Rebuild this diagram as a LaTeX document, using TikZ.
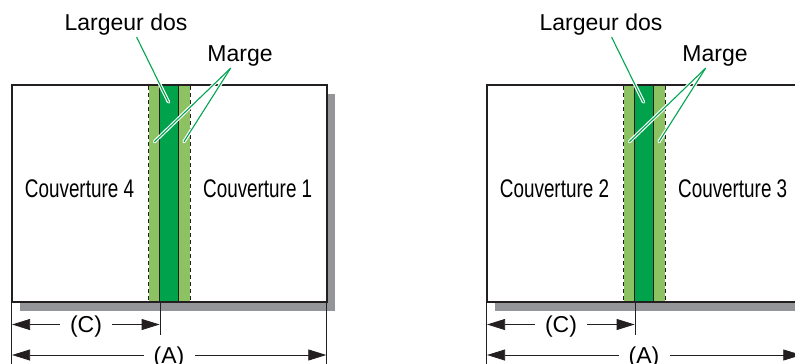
\documentclass[tikz,border=0pt]{standalone}
\usepackage{fontspec}
\usepackage{graphicx}
\setmainfont{Liberation Sans}
\usetikzlibrary{arrows.meta,calc}
\definecolor{shadowgray}{HTML}{939598}
\definecolor{lightgr}{HTML}{8DC262}
\definecolor{darkgr}{HTML}{00A24C}
\definecolor{leadgr}{HTML}{00A651}
\definecolor{inkblk}{HTML}{231F20}
\tikzset{
  border/.style={draw=inkblk,line width=1.8pt},
  thinline/.style={draw=inkblk,line width=0.8pt},
  dashline/.style={draw=inkblk,line width=0.9pt,dash pattern=on 4pt off 3pt},
  casing/.style={white,line width=3.4pt,line cap=round},
  leader/.style={leadgr,line width=1.1pt,line cap=round},
  dimline/.style={inkblk,line width=0.8pt},
  tip/.style={-{Triangle[length=18pt,width=11pt]}},
  lab/.style={font=\fontsize{23}{27}\selectfont,inner sep=0pt,anchor=base},
  covlab/.style={inner sep=0pt,anchor=base},
}
\newcommand{\covtext}[1]{\scalebox{0.74}[1]{\fontsize{25.5}{30}\selectfont #1}}
\begin{document}
\begin{tikzpicture}[x=1pt,y=-1pt]
\useasboundingbox (0,0) rectangle (795,364);
\clip (0,0) rectangle (795,364);
\foreach \dx/\lt/\rt in {0/4/1,475/2/3}{
\begin{scope}[xshift=\dx pt]
  % shadow and sheet
  \fill[shadowgray] (20,94) rectangle (335,310.5);
  \fill[white] (11.7,85) rectangle (326.7,302);
  % spine strips
  \fill[lightgr] (148.7,85) rectangle (190,302);
  \fill[darkgr] (159.7,85) rectangle (178.7,302);
  \draw[thinline] (159.7,85) -- (159.7,302);
  \draw[thinline] (178.7,85) -- (178.7,302);
  \draw[dashline] (148.7,86) -- (148.7,302);
  \draw[dashline] (190,86) -- (190,302);
  \draw[border] (11.7,85) rectangle (326.7,302);
  % labels
  \node[lab] (ld\dx) at (126,30.7) {Largeur dos};
  \node[lab] (mg\dx) at (240,61) {Marge};
  \node[covlab] (cl\dx) at (79.5,197.3) {\covtext{Couverture \lt}};
  \node[covlab] (cr\dx) at (257.7,197.3) {\covtext{Couverture \rt}};
  % leaders
  \coordinate (ldA\dx) at (136.7,37.3);
  \coordinate (ldB\dx) at (168.5,102);
  \coordinate (mgA\dx) at (230.5,68.3);
  \coordinate (mgB\dx) at (154.5,141.7);
  \coordinate (mgC\dx) at (184,141.7);
  \draw[casing] ($(ldA\dx)!0.25!(ldB\dx)$) -- (ldB\dx);
  \draw[leader] (ldA\dx) -- (ldB\dx);
  \draw[casing] ($(mgA\dx)!0.15!(mgB\dx)$) -- (mgB\dx);
  \draw[casing] ($(mgA\dx)!0.15!(mgC\dx)$) -- (mgC\dx);
  \draw[leader] (mgA\dx) -- (mgB\dx);
  \draw[leader] (mgA\dx) -- (mgC\dx);
  % dimensions
  \coordinate (eL\dx) at (11.7,302);
  \coordinate (eM\dx) at (160,302);
  \coordinate (eR\dx) at (326.7,302);
  \draw[dimline] (eL\dx) -- (11.7,364);
  \draw[dimline] (eM\dx) -- (160,334.5);
  \draw[dimline] (eR\dx) -- (326.7,364);
  \node[lab] (dc\dx) at (86,332.5) {(C)};
  \node[lab] (da\dx) at (169,363) {(A)};
  \draw[dimline,tip] (60,324.5) -- (12.1,324.5);
  \draw[dimline,tip] (112,324.5) -- (159.6,324.5);
  \draw[dimline,tip] (144,355) -- (12.1,355);
  \draw[dimline,tip] (195,355) -- (326.3,355);
\end{scope}
}
\end{tikzpicture}
\end{document}
